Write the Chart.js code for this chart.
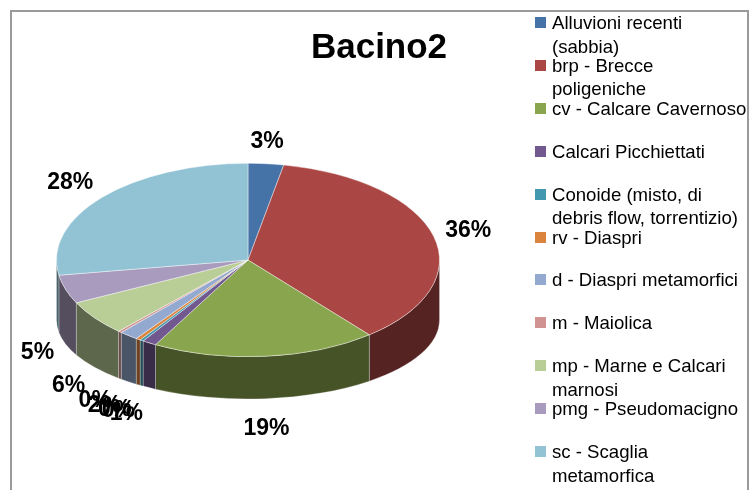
<!DOCTYPE html>
<html>
<head>
<meta charset="utf-8">
<script src="https://cdn.jsdelivr.net/npm/chart.js@4/dist/chart.umd.min.js"></script>
<style>
  body { margin: 0; background: #fff; }
  #wrap { position: relative; width: 751px; height: 490px; overflow: hidden; font-family: "Liberation Sans", Arial, sans-serif; }
  #frame { position: absolute; left: 10px; top: 10px; width: 739px; height: 500px; border: 2px solid #9a9a9a; box-sizing: border-box; }
  #chart { position: absolute; left: 0; top: 0; }
  #title { position: absolute; left: 279px; width: 200px; top: 28px; text-align: center; font-weight: bold; font-size: 35px; line-height: 35px; color: #000; }
  #legend { position: absolute; left: 535px; top: 11px; }
  .item { position: absolute; left: 0; width: 214px; font-size: 18.6px; line-height: 23.5px; color: #000; white-space: nowrap; }
  .item .sw { position: absolute; left: 0; top: 6px; width: 11px; height: 11px; }
  .item .tx { position: absolute; left: 17px; top: 0; }
</style>
</head>
<body>
<div id="wrap">
  <div id="frame"></div>
  <canvas id="chart" width="751" height="490"></canvas>
  <div id="title">Bacino2</div>
  <div id="legend"></div>
</div>
<script>
// dati del grafico
const categories = [
    ['Alluvioni recenti', '(sabbia)'],
    ['brp - Brecce', 'poligeniche'],
    'cv - Calcare Cavernoso',
    'Calcari Picchiettati',
    ['Conoide (misto, di', 'debris flow, torrentizio)'],
    'rv - Diaspri',
    'd - Diaspri metamorfici',
    'm - Maiolica',
    ['mp - Marne e Calcari', 'marnosi'],
    'pmg - Pseudomacigno',
    ['sc - Scaglia', 'metamorfica']
];
const values = [3.0, 36.2, 19.0, 1.2, 0.3, 0.4, 1.6, 0.3, 5.9, 4.8, 27.6];
const colors = ['#4572A7', '#AA4643', '#89A54E', '#71588F', '#4198AF', '#DB843D',
                '#93A9CF', '#D19392', '#B9CD96', '#A99BBD', '#92C3D5'];

const TILT = 0.505;      // schiacciamento della faccia superiore
const SIDE_DROP = 60;    // abbassamento del bordo inferiore
const SIDE_RY = 79;      // raggio verticale del bordo inferiore

function shade(hex, f) {
    const n = parseInt(hex.slice(1), 16);
    const r = Math.round(((n >> 16) & 255) * f);
    const g = Math.round(((n >> 8) & 255) * f);
    const b = Math.round((n & 255) * f);
    return 'rgb(' + r + ',' + g + ',' + b + ')';
}

// torta 3D: lati sotto, faccia sopra schiacciata
const pie3d = {
    id: 'pie3d',
    beforeDatasetsDraw(chart) {
        const ctx = chart.ctx;
        const arcs = chart.getDatasetMeta(0).data;
        const cx = arcs[0].x, cy = arcs[0].y, R = arcs[0].outerRadius;
        const ry = R * TILT;
        ctx.save();
        arcs.forEach((arc, i) => {
            const a = Math.max(arc.startAngle, 0);
            const b = Math.min(arc.endAngle, Math.PI);
            if (b <= a) return;
            ctx.beginPath();
            ctx.ellipse(cx, cy, R, ry, 0, a, b, false);
            ctx.ellipse(cx, cy + SIDE_DROP, R, SIDE_RY, 0, b, a, true);
            ctx.closePath();
            ctx.fillStyle = shade(colors[i], 0.5);
            ctx.fill();
            ctx.strokeStyle = 'rgba(255,255,255,0.3)';
            ctx.lineWidth = 0.8;
            ctx.stroke();
        });
        ctx.restore();
        ctx.save();
        ctx.translate(cx, cy);
        ctx.scale(1, TILT);
        ctx.translate(-cx, -cy);
    },
    afterDatasetsDraw(chart) {
        const ctx = chart.ctx;
        ctx.restore();
        const arcs = chart.getDatasetMeta(0).data;
        const total = values.reduce((s, v) => s + v, 0);
        ctx.save();
        ctx.font = 'bold 23px "Liberation Sans", Arial, sans-serif';
        ctx.fillStyle = '#000';
        ctx.textBaseline = 'middle';
        arcs.forEach((arc, i) => {
            const R = arc.outerRadius, ry = R * TILT;
            const m = (arc.startAngle + arc.endAngle) / 2;
            const c = Math.cos(m), s = Math.sin(m);
            const x = arc.x + (R + 12) * c;
            const y = s > 0 ? arc.y + SIDE_DROP + (SIDE_RY + 30) * s : arc.y + (ry + 22) * s;
            ctx.textAlign = c > 0.25 ? 'left' : (c < -0.25 ? 'right' : 'center');
            ctx.fillText(Math.round(values[i] / total * 100) + '%', x, y);
        });
        ctx.restore();
    }
};

new Chart(document.getElementById('chart'), {
    type: 'pie',
    data: {
        labels: categories,
        datasets: [{
            data: values,
            backgroundColor: colors,
            borderColor: 'rgba(255,255,255,0.55)',
            borderWidth: 1
        }]
    },
    options: {
        responsive: false,
        animation: false,
        devicePixelRatio: 1,
        layout: { padding: { left: 56, right: 311, top: 68, bottom: 38 } },
        plugins: { legend: { display: false }, tooltip: { enabled: false } }
    },
    plugins: [pie3d]
});

// legenda a destra
const legend = document.getElementById('legend');
categories.forEach((name, i) => {
    const item = document.createElement('div');
    item.className = 'item';
    item.style.top = (i * 42.9) + 'px';
    const sw = document.createElement('span');
    sw.className = 'sw';
    sw.style.background = colors[i];
    const tx = document.createElement('span');
    tx.className = 'tx';
    tx.innerHTML = [].concat(name).join('<br>');
    item.appendChild(sw);
    item.appendChild(tx);
    legend.appendChild(item);
});
</script>
</body>
</html>
